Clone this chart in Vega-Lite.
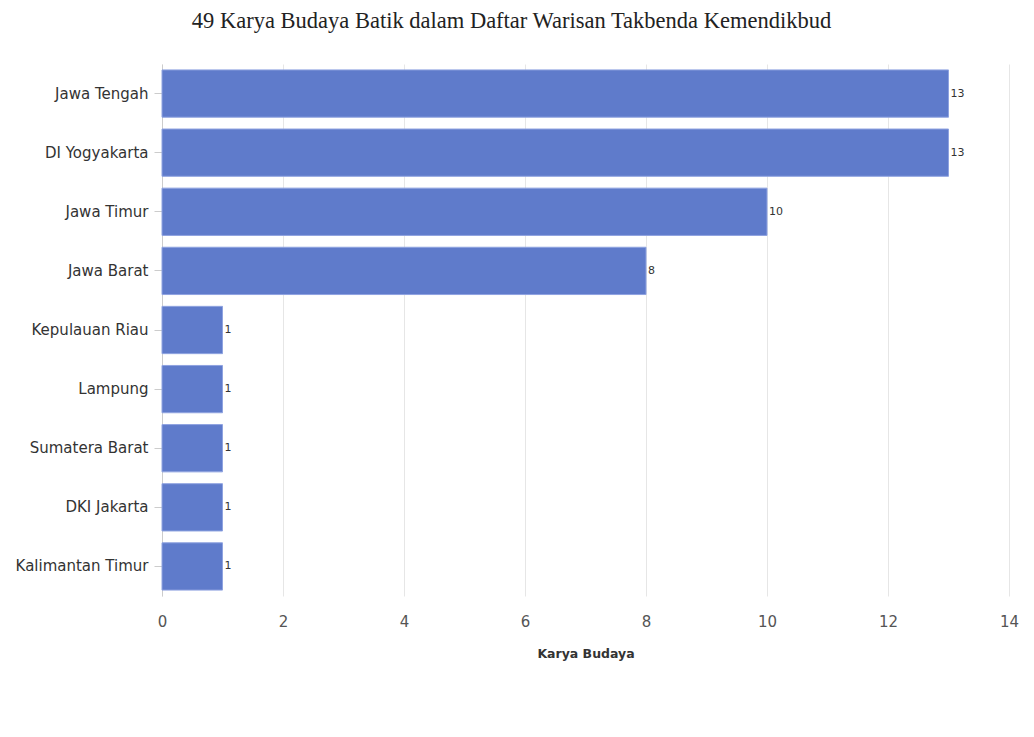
{
  "$schema": "https://vega.github.io/schema/vega-lite/v6.json",
  "autosize": "none",
  "width": 847,
  "height": 532,
  "padding": {"left": 162, "top": 64, "right": 25, "bottom": 141},
  "background": "white",
  "title": {
    "text": "49 Karya Budaya Batik dalam Daftar Warisan Takbenda Kemendikbud",
    "font": "Liberation Serif",
    "fontSize": 22.5,
    "fontWeight": "normal",
    "color": "#222222",
    "anchor": "middle",
    "dx": -74,
    "offset": 32
  },
  "data": {
    "values": [
      {"provinsi": "Jawa Tengah", "jumlah": 13},
      {"provinsi": "DI Yogyakarta", "jumlah": 13},
      {"provinsi": "Jawa Timur", "jumlah": 10},
      {"provinsi": "Jawa Barat", "jumlah": 8},
      {"provinsi": "Kepulauan Riau", "jumlah": 1},
      {"provinsi": "Lampung", "jumlah": 1},
      {"provinsi": "Sumatera Barat", "jumlah": 1},
      {"provinsi": "DKI Jakarta", "jumlah": 1},
      {"provinsi": "Kalimantan Timur", "jumlah": 1}
    ]
  },
  "encoding": {
    "y": {
      "field": "provinsi",
      "type": "nominal",
      "sort": null,
      "scale": {"paddingInner": 0.2, "paddingOuter": 0.1},
      "axis": {
        "title": null,
        "labelFont": "DejaVu Sans",
        "labelFontSize": 15,
        "labelColor": "#333333",
        "tickColor": "#cccccc",
        "tickSize": 8,
        "labelPadding": 6,
        "domainColor": "#cccccc",
        "grid": false
      }
    },
    "x": {
      "field": "jumlah",
      "type": "quantitative",
      "scale": {"domain": [0, 14]},
      "axis": {
        "title": "Karya Budaya",
        "titleFont": "DejaVu Sans",
        "titleFontSize": 12.5,
        "titleFontWeight": "bold",
        "titleColor": "#333333",
        "titlePadding": 18,
        "values": [0, 2, 4, 6, 8, 10, 12, 14],
        "labelFont": "DejaVu Sans",
        "labelFontSize": 15,
        "labelColor": "#555555",
        "labelPadding": 18,
        "labelFlush": false,
        "ticks": false,
        "domain": false,
        "gridColor": "#e6e6e6"
      }
    }
  },
  "layer": [
    {
      "mark": {"type": "bar", "color": "#5f7bcb", "stroke": "#8fa3e0", "strokeWidth": 1}
    },
    {
      "mark": {"type": "text", "align": "left", "baseline": "middle", "dx": 2, "font": "DejaVu Sans", "fontSize": 11, "color": "#333333"},
      "encoding": {"text": {"field": "jumlah", "type": "quantitative"}}
    }
  ],
  "config": {"view": {"stroke": null}}
}
